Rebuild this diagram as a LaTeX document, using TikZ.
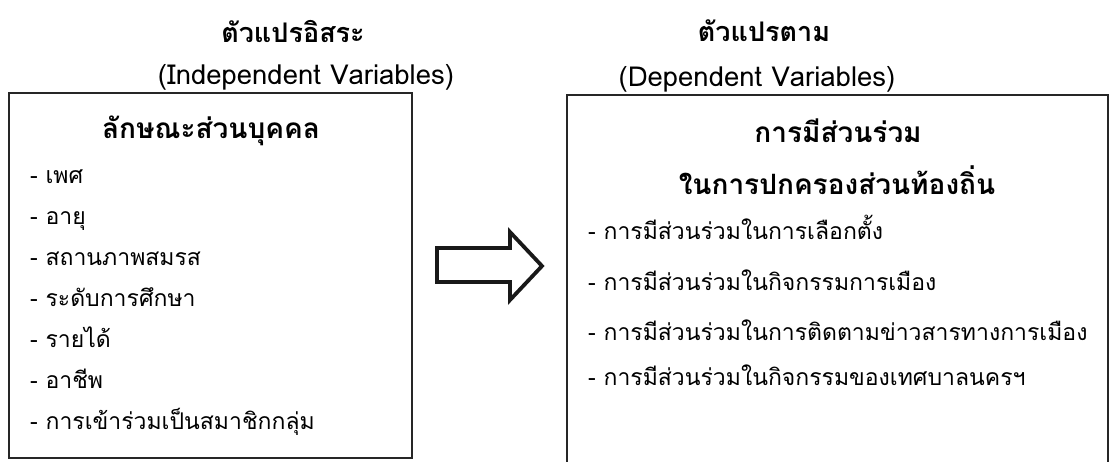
\documentclass[tikz,border=0pt]{standalone}
\usepackage{fontspec}
\setmainfont[Script=Thai]{Loma}
\usetikzlibrary{calc}
\tikzset{x=1pt, y=-1pt,
	var title/.style={font=\bfseries\fontsize{27}{32}\selectfont},
	var subtitle/.style={font=\fontsize{27.5}{32}\selectfont},
	var box/.style={draw=black!85, line width=1.8pt, rectangle, inner sep=0pt},
	box head/.style={font=\bfseries\fontsize{28}{32}\selectfont},
	item text/.style={anchor=base west, inner sep=0pt, font=\fontsize{23}{27}\selectfont},
	flow arrow/.style={draw=black!90, line width=3.8pt, line join=miter, fill=white}
}

\begin{document}
\begin{tikzpicture}
\useasboundingbox (0,0) rectangle (1111,461);
% independent variables
\node (IndepTitle) [var title] at (293,32) {ตัวแปรอิสระ};
\node (IndepSub) [var subtitle] at (306,77) {(Independent Variables)};
\node (IndepBox) [var box, minimum width=403pt, minimum height=365pt] at (210.5,275.5) {};
\node (IndepHead) [box head] at (211,131) {ลักษณะส่วนบุคคล};
\foreach \i/\y/\t in {1/175/เพศ, 2/216/อายุ, 3/257/สถานภาพสมรส, 4/298/ระดับการศึกษา,
	5/339/รายได้, 6/380/อาชีพ, 7/421/การเข้าร่วมเป็นสมาชิกกลุ่ม}
	\node (IndepItem\i) [item text] at (30,\y+8) {- \t};
% arrow between the boxes
\draw[flow arrow] (437,248) -- (510,248) -- (510,232) -- (542,266)
	-- (510,300) -- (510,282) -- (437,282) -- cycle;
% dependent variables
\node (DepTitle) [var title] at (764,31) {ตัวแปรตาม};
\node (DepSub) [var subtitle] at (757,79) {(Dependent Variables)};
\node (DepBox) [var box, minimum width=541pt, minimum height=372pt] at (837.5,281) {};
\node (DepHead) [box head] at (838,131) {การมีส่วนร่วม};
\node (DepHeadB) [box head] at (837,180) {ในการปกครองส่วนท้องถิ่น};
\foreach \i/\y/\t in {1/231/การมีส่วนร่วมในการเลือกตั้ง, 2/282/การมีส่วนร่วมในกิจกรรมการเมือง,
	3/332/การมีส่วนร่วมในการติดตามข่าวสารทางการเมือง, 4/377/การมีส่วนร่วมในกิจกรรมของเทศบาลนครฯ}
	\node (DepItem\i) [item text] at (588,\y+8) {- \t};
\end{tikzpicture}
\end{document}
